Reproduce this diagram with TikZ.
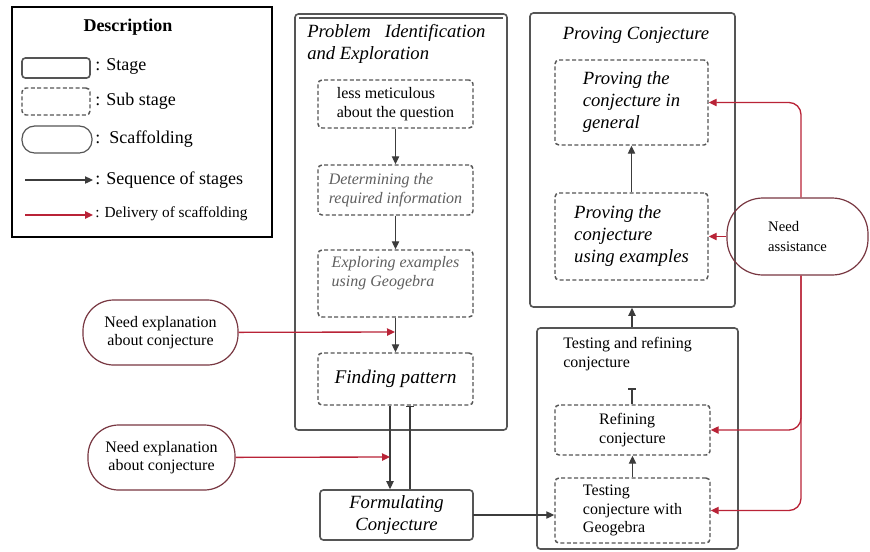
\documentclass[tikz,border=0pt]{standalone}
\usepackage{fontspec}
\setmainfont{Liberation Serif}
\usetikzlibrary{arrows.meta}
\definecolor{boxgray}{RGB}{85,85,85}
\definecolor{arrowgray}{RGB}{60,60,60}
\definecolor{redline}{RGB}{185,35,55}
\definecolor{scafcol}{RGB}{120,55,65}
\definecolor{softtext}{RGB}{95,95,95}
\begin{document}
\begin{tikzpicture}[x=0.75pt,y=-0.75pt,
  sz/.style 2 args={minimum width=#1*0.75pt, minimum height=#2*0.75pt},
  stagebox/.style={draw=boxgray, line width=1.2pt, rounded corners=2.5pt, inner sep=0pt},
  subbox/.style={draw=boxgray, line width=1.1pt, dash pattern=on 3pt off 1.8pt, rounded corners=3pt, inner sep=0pt},
  scaff/.style={draw=scafcol, line width=0.9pt, inner sep=0pt},
  seq/.style={draw=arrowgray, line width=0.9pt, -{Triangle[length=6pt,width=5.5pt]}},
  seqbar/.style={draw=arrowgray, line width=0.9pt, -{Bar[width=6pt,line width=1.2pt]}},
  deliv/.style={draw=redline, line width=1pt, -{Triangle[length=6pt,width=5.5pt]}},
  txt/.style={font=\fontsize{12}{14}\selectfont},
  itbig/.style={font=\fontsize{14}{16.5}\selectfont\itshape},
  legtxt/.style={anchor=west, inner sep=0pt, font=\fontsize{13.5}{16}\selectfont},
]
\useasboundingbox[fill=white] (0,0) rectangle (870,551);

% ---------- legend ----------
\node[draw=black, line width=1.2pt, inner sep=0pt, sz={260}{230}] (legend) at (142,122) {};
\node[inner sep=0pt, font=\fontsize{13.5}{16}\selectfont\bfseries] (ltitle) at (128,27) {Description};
\node[stagebox, sz={68}{20}] (lstage) at (56,68) {};
\node[legtxt] (lstaget) at (95,66) {: Stage};
\node[subbox, sz={68}{27}] (lsub) at (56,101.5) {};
\node[legtxt] (lsubt) at (95,101) {: Sub stage};
\node[scaff, draw=boxgray, rounded corners=9.5pt, sz={70}{27}] (lscaf) at (57,139.5) {};
\node[legtxt] (lscaft) at (95,139) {:\ \ Scaffolding};
\coordinate (lsa) at (25,180);
\coordinate (lsb) at (93,180);
\draw[seq] (lsa) -- (lsb);
\node[legtxt] (lseqt) at (95,180) {: Sequence of stages};
\coordinate (lda) at (25,215);
\coordinate (ldb) at (93,215);
\draw[deliv, line width=1.5pt] (lda) -- (ldb);
\node[legtxt, font=\fontsize{11.5}{14}\selectfont] (ldelt) at (95,214) {: Delivery of scaffolding};

% ---------- Problem identification ----------
\node[stagebox, sz={212}{416}] (pi) at (401,222) {};
\coordinate (pil) at (299,18);
\coordinate (pir) at (503,18);
\draw[boxgray, line width=0.8pt] (pil) -- (pir);
\node[anchor=north west, align=left, inner sep=0pt, font=\fontsize{14}{16.5}\selectfont\itshape] (pititle) at (307,24) {Problem\ \ \ Identification\\and Exploration};
\node[subbox, sz={155}{48}, txt, align=left] (s1) at (395.5,104) {less meticulous\\about the question};
\node[subbox, sz={155}{50}, align=left, font=\fontsize{12}{14}\selectfont\itshape, text=softtext] (s2) at (395.5,190) {Determining the\\required information};
\node[subbox, sz={155}{67}, align=left, font=\fontsize{12}{14}\selectfont\itshape, text=softtext] (s3) at (395.5,283.5) {Exploring examples\\using Geogebra\\[4pt]\ };
\node[subbox, sz={155}{52}, itbig, font=\fontsize{14.5}{17}\selectfont\itshape] (s4) at (395.5,379) {Finding pattern};
\node[stagebox, sz={153}{50}, align=center, itbig] (fc) at (396.5,515) {Formulating\\Conjecture};

% ---------- Proving conjecture ----------
\node[stagebox, sz={205}{294}] (pc) at (632.5,160) {};
\node[inner sep=0pt, font=\fontsize{14}{16}\selectfont\itshape] (pctitle) at (636,35) {Proving Conjecture};
\node[subbox, sz={153}{85}, itbig, align=left] (p1) at (631.5,102.5) {Proving the\\conjecture in\\general};
\node[subbox, sz={153}{87}, itbig, align=left] (p2) at (631.5,236.5) {Proving the\\conjecture\\using examples};

% ---------- Testing and refining ----------
\node[stagebox, sz={201}{221}] (tr) at (637.5,438.5) {};
\node[anchor=north west, align=left, inner sep=0pt, txt] (trtitle) at (563,337) {Testing and refining\\conjecture};
\node[subbox, sz={155}{50}, txt, align=left] (r1) at (632.5,430) {Refining\\conjecture};
\node[subbox, sz={155}{65}, txt, align=left] (t1) at (632.5,510.5) {Testing\\conjecture with\\Geogebra};

% ---------- scaffolding nodes ----------
\node[scaff, rounded corners=23pt, sz={155}{65}, txt, align=center] (ne1) at (160.5,332.5) {Need explanation\\about conjecture};
\node[scaff, rounded corners=23pt, sz={147}{65}, txt, align=center] (ne2) at (161.5,457.5) {Need explanation\\about conjecture};
\node[scaff, rounded corners=27pt, sz={141}{77}, align=left, font=\fontsize{11}{15}\selectfont] (na) at (797.5,236.5) {Need\\assistance};

% ---------- sequence arrows ----------
\draw[seq] (s1) -- (s2);
\draw[seq] (s2) -- (s3);
\draw[seq] (s3) -- (s4);
\coordinate (xl) at (390,0);
\coordinate (xr) at (410,0);
\coordinate (xm) at (632,0);
\draw[seq] (s4.south -| xl) -- (fc.north -| xl);
\draw[seqbar] (fc.north -| xr) -- (s4.south -| xr);
\coordinate (fcout) at (473,515);
\draw[seq] (fcout) -- (fcout -| t1.west);
\draw[seq] (t1) -- (r1);
\coordinate (rbar) at (632,388);
\draw[seqbar] (r1.north -| rbar) -- (rbar);
\draw[seq] (tr.north -| xm) -- (pc.south -| xm);
\draw[seq] (p2) -- (p1);

% ---------- delivery arrows ----------
\coordinate (m1) at (395,332);
\coordinate (m2) at (390,457);
\draw[deliv] (ne1) -- (m1);
\draw[deliv] (ne2) -- (m2);
\coordinate (vx) at (801,0);
\draw[deliv, rounded corners=9pt] (na.north -| vx) |- (p1.east);
\draw[deliv] (na.west) -- (na.west -| p2.east);
\draw[deliv, rounded corners=9pt] (na.south -| vx) |- (t1.east);
\draw[deliv, rounded corners=9pt] (na.south -| vx) |- (r1.east);
\end{tikzpicture}
\end{document}
